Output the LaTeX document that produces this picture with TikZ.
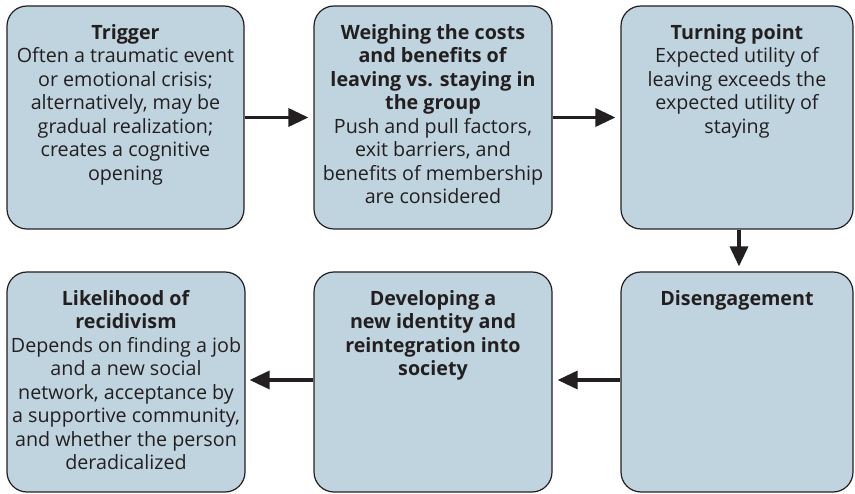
\documentclass[tikz,border=0pt]{standalone}
\usepackage{fontspec}
\setmainfont{Open Sans}
\usetikzlibrary{arrows.meta,positioning}
\definecolor{boxblue}{RGB}{191,212,223}
\definecolor{ink}{RGB}{35,31,32}
\tikzset{
  stage/.style={draw=ink,line width=1.2pt,fill=boxblue,rounded corners=20pt,inner sep=0pt},
  stagetext/.style={align=center,text=ink,inner sep=0pt,font=\fontsize{19.7}{23.5}\selectfont},
  flow/.style={draw=ink,line width=3.5pt,-{Triangle[length=20pt,width=18pt]},shorten >=5pt}
}

\begin{document}
\begin{tikzpicture}[x=1pt,y=-1pt,node distance=17pt]
            \useasboundingbox (0,0) rectangle (855,494);
            \node[stage,minimum width=237pt,minimum height=223pt] (trig) at (125.5,117.5) {};
            \node[stage,minimum width=238pt,minimum height=223pt] (weigh) at (433,117.5) {};
            \node[stage,minimum width=232pt,minimum height=223pt] (turn) at (737,117.5) {};
            \node[stage,minimum width=232pt,minimum height=220pt] (dis) at (737,382) {};
            \node[stage,minimum width=238pt,minimum height=220pt] (dev) at (433,382) {};
            \node[stage,minimum width=238pt,minimum height=220pt] (lik) at (126,382) {};
            \node[stagetext,below=of trig.north] (trigtxt) {\strut\textbf{Trigger}\\ Often a traumatic event\\ or emotional crisis;\\ alternatively, may be\\ gradual realization;\\ creates a cognitive\\ opening};
            \node[stagetext,below=of weigh.north] (weightxt) {\strut\textbf{Weighing the costs}\\ \textbf{and benefits of}\\ \textbf{leaving vs. staying in}\\ \textbf{the group}\\ Push and pull factors,\\ exit barriers, and\\ benefits of membership\\ are considered};
            \node[stagetext,below=of turn.north] (turntxt) {\strut\textbf{Turning point}\\ Expected utility of\\ leaving exceeds the\\ expected utility of\\ staying};
            \node[stagetext,below=of dis.north] (distxt) {\strut\textbf{Disengagement}};
            \node[stagetext,below=of dev.north] (devtxt) {\strut\textbf{Developing a}\\ \textbf{new identity and}\\ \textbf{reintegration into}\\ \textbf{society}};
            \node[stagetext,below=of lik.north] (liktxt) {\strut\textbf{Likelihood of}\\ \textbf{recidivism}\\ Depends on finding a job\\ and a new social\\ network, acceptance by\\ a supportive community,\\ and whether the person\\ deradicalized};
            \draw[flow] (trig.east)--(weigh.west);
            \draw[flow] (weigh.east)--(turn.west);
            \draw[flow] ([xshift=2pt]turn.south)--([xshift=2pt]dis.north);
            \draw[flow] ([yshift=2pt]dis.west)--([yshift=2pt]dev.east);
            \draw[flow,shorten >=4pt] ([yshift=2pt]dev.west)--([yshift=2pt]lik.east);
        \end{tikzpicture}
\end{document}
